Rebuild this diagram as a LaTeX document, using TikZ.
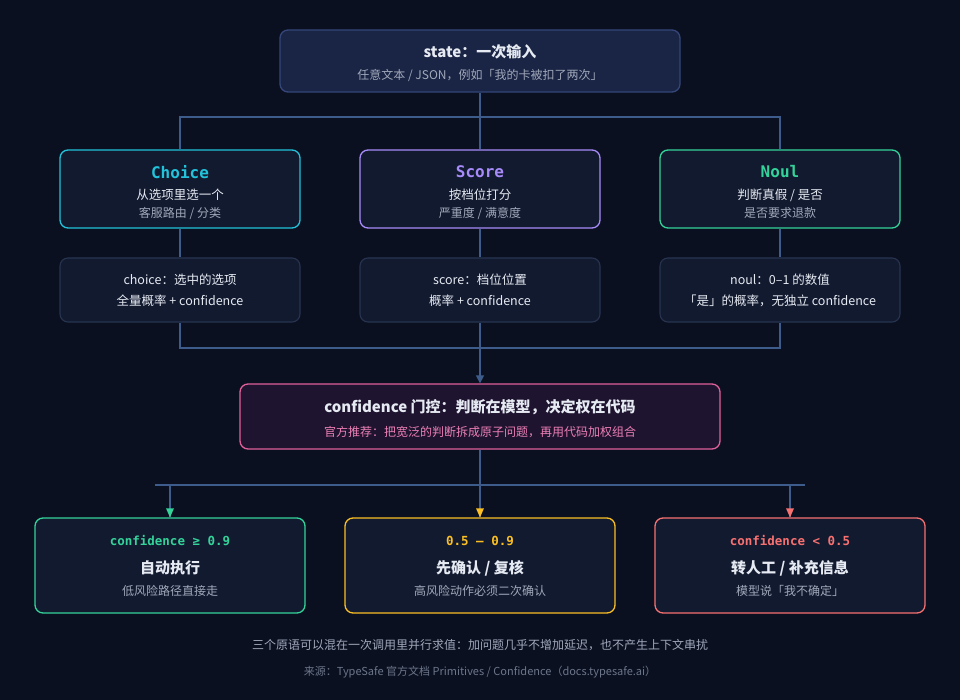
\documentclass[tikz,border=0pt]{standalone}
\usepackage{fontspec}
\setmainfont{Noto Sans CJK SC}
\newfontfamily\monof{DejaVu Sans Mono}
\usetikzlibrary{arrows.meta}
\definecolor{bg}{HTML}{0A1020}
\definecolor{boxf}{HTML}{121A30}
\definecolor{statef}{HTML}{1A2444}
\definecolor{stateb}{HTML}{34467A}
\definecolor{rowb}{HTML}{27334F}
\definecolor{ln}{HTML}{3D5C8C}
\definecolor{cy}{HTML}{22C3DA}
\definecolor{pu}{HTML}{A78BFA}
\definecolor{gr}{HTML}{34D399}
\definecolor{ye}{HTML}{FBBF24}
\definecolor{re}{HTML}{F87171}
\definecolor{pk}{HTML}{E0609A}
\definecolor{pks}{HTML}{EC7FB5}
\definecolor{confF}{HTML}{1E1430}
\definecolor{tx}{HTML}{E6EAF2}
\definecolor{sub}{HTML}{A0A8BA}
\definecolor{dim}{HTML}{6C768A}
\begin{document}
\begin{tikzpicture}[x=1pt,y=-1pt,
  box/.style={draw,line width=1.3pt,rounded corners=8pt,fill=boxf},
  t/.style={text=tx,font=\fontsize{15}{15}\selectfont\bfseries},
  s/.style={text=sub,font=\fontsize{12}{12}\selectfont},
  m/.style={text=tx,font=\fontsize{12.5}{13}\selectfont},
  mono/.style={font=\monof\fontsize{16}{16}\selectfont\bfseries},
  lnk/.style={draw=ln,line width=1.3pt}]
\fill[bg] (0,0) rectangle (960,700);
% state
\node[box,draw=stateb,fill=statef,minimum width=400pt,minimum height=62pt] (st) at (480,61) {};
\node[t] (stT) at (480,52) {state：一次输入};
\node[s] (stS) at (480,75) {任意文本 / JSON，例如「我的卡被扣了两次」};
% row1
\foreach \n/\x/\c/\a/\b/\d in {ch/180/cy/Choice/从选项里选一个/{客服路由 / 分类}, sc/480/pu/Score/按档位打分/{严重度 / 满意度}, no/780/gr/Noul/{判断真假 / 是否}/是否要求退款}{
  \node[box,draw=\c,minimum width=240pt,minimum height=78pt] (\n) at (\x,189) {};
  \node[mono,text=\c] (\n T) at (\x,172) {\a};
  \node[m] (\n A) at (\x,195) {\b};
  \node[s] (\n B) at (\x,213) {\d};
}
% row2
\foreach \n/\x/\a/\b in {chr/180/choice：选中的选项/全量概率 + confidence, scr/480/score：档位位置/概率 + confidence, nor/780/noul：0–1 的数值/「是」的概率，无独立 confidence}{
  \node[box,draw=rowb,line width=1.1pt,minimum width=240pt,minimum height=64pt] (\n) at (\x,290) {};
  \node[m] (\n A) at (\x,280) {\a};
  \node[m] (\n B) at (\x,301) {\b};
}
% confidence
\node[box,draw=pk,fill=confF,minimum width=480pt,minimum height=65pt] (cf) at (480,416.5) {};
\node[t] (cfT) at (480,407) {confidence 门控：判断在模型，决定权在代码};
\node[text=pks,font=\fontsize{12}{12}\selectfont] (cfS) at (480,432) {官方推荐：把宽泛的判断拆成原子问题，再用代码加权组合};
% connectors top
\coordinate (j1) at (480,117);
\draw[lnk] (st.south) -- (j1);
\draw[lnk] (ch.north) |- (j1) -| (no.north);
\draw[lnk] (j1) -- (sc.north);
\draw[lnk] (ch.south) -- (chr.north);
\draw[lnk] (sc.south) -- (scr.north);
\draw[lnk] (no.south) -- (nor.north);
\coordinate (j2) at (480,348);
\draw[lnk] (chr.south) |- (j2) -| (nor.south);
\draw[lnk] (scr.south) -- (j2);
\draw[lnk,-{Triangle[length=8pt,width=8pt]}] (j2) -- (cf.north);
% bottom
\foreach \n/\x/\c/\a/\b/\d in {b1/170/gr/confidence ≥ 0.9/自动执行/低风险路径直接走, b2/480/ye/0.5 – 0.9/{先确认 / 复核}/高风险动作必须二次确认, b3/790/re/confidence < 0.5/{转人工 / 补充信息}/模型说「我不确定」}{
  \node[box,draw=\c,minimum width=270pt,minimum height=95pt] (\n) at (\x,565.5) {};
  \node[text=\c,font=\monof\fontsize{12.5}{13}\selectfont\bfseries] (\n T) at (\x,541) {\a};
  \node[t] (\n A) at (\x,568) {\b};
  \node[s] (\n B) at (\x,591) {\d};
}
\coordinate (j3) at (480,485);
\coordinate (hl) at (155,485);
\coordinate (hr) at (805,485);
\coordinate (k1) at (170,485);
\coordinate (k3) at (790,485);
\draw[lnk] (cf.south) -- (j3);
\draw[lnk] (hl) -- (hr);
\draw[lnk] (k1) -- (b1.north);
\fill[gr] (b1.north) -- ++(-4,-9) -- ++(8,0) -- cycle;
\draw[lnk] (j3) -- (b2.north);
\fill[ye] (b2.north) -- ++(-4,-9) -- ++(8,0) -- cycle;
\draw[lnk] (k3) -- (b3.north);
\fill[re] (b3.north) -- ++(-4,-9) -- ++(8,0) -- cycle;
\node[text=sub,font=\fontsize{12}{12}\selectfont] (f1) at (480,645) {三个原语可以混在一次调用里并行求值：加问题几乎不增加延迟，也不产生上下文串扰};
\node[text=dim,font=\fontsize{11}{11}\selectfont] (f2) at (480,672) {来源：TypeSafe 官方文档 Primitives / Confidence（docs.typesafe.ai）};
\end{tikzpicture}
\end{document}
